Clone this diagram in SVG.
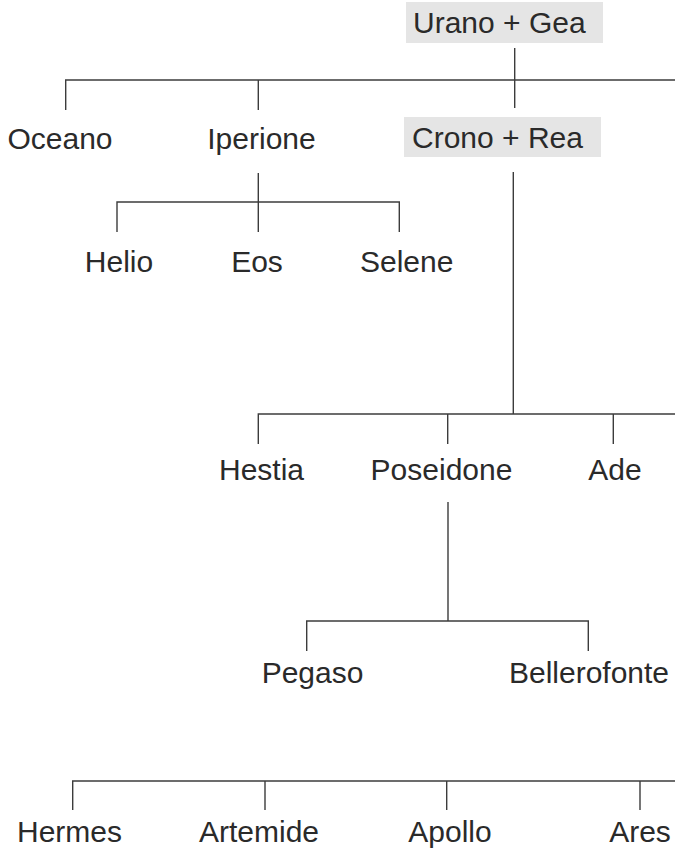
<svg xmlns="http://www.w3.org/2000/svg" width="675" height="856" viewBox="0 0 675 856">
<style>
.t{font-family:"Liberation Sans",Arial,sans-serif;font-size:30px;fill:#2a2a2a;text-anchor:middle}
.s{text-anchor:start}
.box{fill:#e5e5e5}
.c{stroke:#3c3c3c;stroke-width:1.4;fill:none}
</style>
<rect width="675" height="856" fill="#fff"/>
<g id="connectors" class="c">
<path d="M514.7 48V108M65.7 110V80H675M258.3 80V110"/>
<path d="M258.3 173V232M117 232V202H399.3V232"/>
<path d="M513.3 172V414M258.3 444V414H675M447.7 414V444M613.3 414V444"/>
<path d="M448 502V621M306.7 651V621H588.3V651"/>
<path d="M72.7 810V781H675M265 781V810M446.7 781V810M640 781V810"/>
</g>
<g id="urano-gea"><rect class="box" x="406" y="2" width="197" height="41"/><text class="t s" x="413" y="33">Urano + Gea</text></g>
<g id="oceano"><text class="t" x="60" y="149">Oceano</text></g>
<g id="iperione"><text class="t" x="261.5" y="149">Iperione</text></g>
<g id="crono-rea"><rect class="box" x="404" y="117" width="197" height="40"/><text class="t s" x="412" y="148">Crono + Rea</text></g>
<g id="helio"><text class="t" x="119" y="272">Helio</text></g>
<g id="eos"><text class="t" x="257" y="272">Eos</text></g>
<g id="selene"><text class="t" x="406.7" y="272">Selene</text></g>
<g id="hestia"><text class="t" x="261.5" y="480">Hestia</text></g>
<g id="poseidone"><text class="t" x="441.5" y="480">Poseidone</text></g>
<g id="ade"><text class="t" x="615" y="480">Ade</text></g>
<g id="pegaso"><text class="t" x="312.5" y="683">Pegaso</text></g>
<g id="bellerofonte"><text class="t" x="589" y="683">Bellerofonte</text></g>
<g id="hermes"><text class="t" x="69.5" y="842">Hermes</text></g>
<g id="artemide"><text class="t" x="259" y="842">Artemide</text></g>
<g id="apollo"><text class="t" x="450" y="842">Apollo</text></g>
<g id="ares"><text class="t" x="640" y="842">Ares</text></g>
</svg>
